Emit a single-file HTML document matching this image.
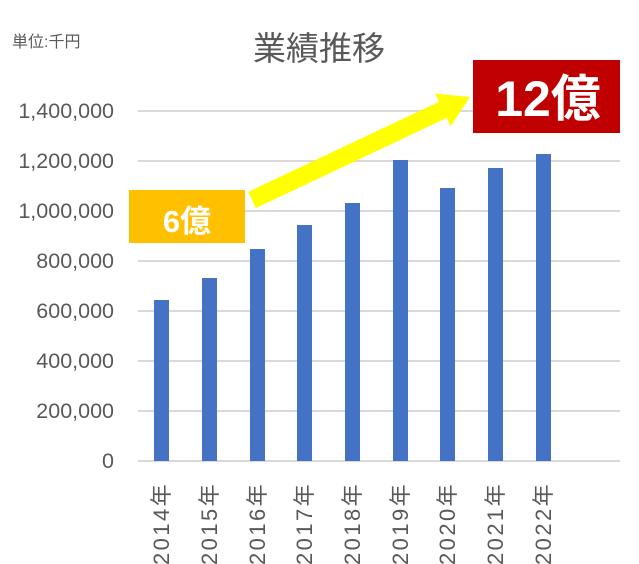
<!DOCTYPE html>
<html><head><meta charset="utf-8"><style>
body{margin:0;background:#fff;}
</style></head><body>
<svg width="639" height="564" xmlns="http://www.w3.org/2000/svg" style="display:block">
<g font-family="'Liberation Sans','Noto Sans CJK JP',sans-serif">
<text x="12" y="47" font-size="16" fill="#595959">単位:千円</text>
<text x="319" y="60" font-size="33" fill="#595959" text-anchor="middle">業績推移</text>
<g stroke="#d9d9d9" stroke-width="2">
<line x1="138" x2="620" y1="111" y2="111"/>
<line x1="138" x2="620" y1="161" y2="161"/>
<line x1="138" x2="620" y1="211" y2="211"/>
<line x1="138" x2="620" y1="261" y2="261"/>
<line x1="138" x2="620" y1="311" y2="311"/>
<line x1="138" x2="620" y1="361" y2="361"/>
<line x1="138" x2="620" y1="411" y2="411"/>
<line x1="138" x2="620" y1="461" y2="461"/>
</g>
<g font-size="21.5" fill="#595959" text-anchor="end">
<text x="114" y="118">1,400,000</text>
<text x="114" y="168">1,200,000</text>
<text x="114" y="218">1,000,000</text>
<text x="114" y="268">800,000</text>
<text x="114" y="318">600,000</text>
<text x="114" y="368">400,000</text>
<text x="114" y="418">200,000</text>
<text x="114" y="468">0</text>
</g>
<g fill="#4472c4">
<rect x="154" y="300" width="15" height="161"/>
<rect x="202" y="278" width="15" height="183"/>
<rect x="250" y="249" width="15" height="212"/>
<rect x="297" y="225" width="15" height="236"/>
<rect x="345" y="203" width="15" height="258"/>
<rect x="393" y="160" width="15" height="301"/>
<rect x="440" y="188" width="15" height="273"/>
<rect x="488" y="168" width="15" height="293"/>
<rect x="536" y="154" width="15" height="307"/>
</g>
<g font-size="22" fill="#595959" text-anchor="end" letter-spacing="2.4">
<text transform="translate(169,482) rotate(-90)">2014年</text>
<text transform="translate(217,482) rotate(-90)">2015年</text>
<text transform="translate(265,482) rotate(-90)">2016年</text>
<text transform="translate(312,482) rotate(-90)">2017年</text>
<text transform="translate(360,482) rotate(-90)">2018年</text>
<text transform="translate(408,482) rotate(-90)">2019年</text>
<text transform="translate(455,482) rotate(-90)">2020年</text>
<text transform="translate(503,482) rotate(-90)">2021年</text>
<text transform="translate(551,482) rotate(-90)">2022年</text>
</g>
<rect x="129" y="190" width="116" height="53" fill="#ffc000"/>
<text x="187" y="232" font-size="31" font-weight="bold" fill="#fff" text-anchor="middle">6億</text>
<rect x="473" y="60" width="147" height="73" fill="#c00000"/>
<text x="548" y="116" font-size="50" font-weight="bold" fill="#fff" text-anchor="middle">12億</text>
<polygon points="255.8,208.1 446.7,117.9 450.6,126.1 470,97 435.2,93.5 439.1,101.7 248.2,191.9" fill="#ffff00"/>
</g>
</svg>
</body></html>
